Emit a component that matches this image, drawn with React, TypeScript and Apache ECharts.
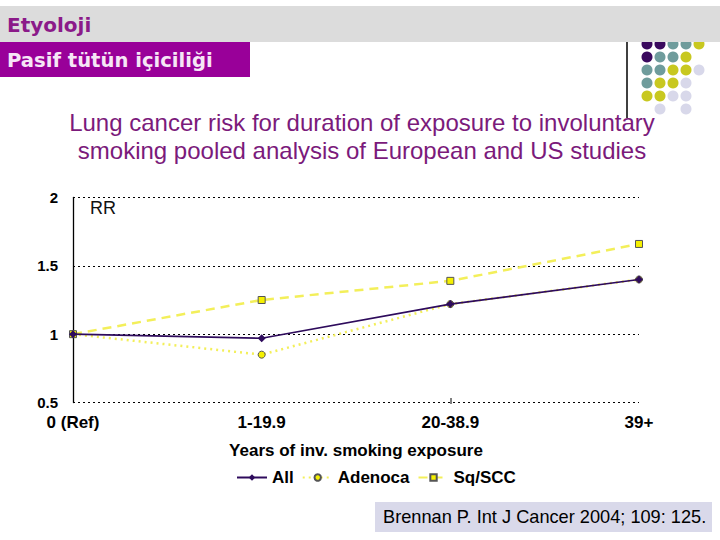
import React, { useEffect, useRef } from "react";
import * as echarts from "echarts";

const categories = ["0 (Ref)", "1-19.9", "20-38.9", "39+"];
const allValues = [1.0, 0.97, 1.22, 1.4];
const adenocaValues = [1.0, 0.85, 1.22, 1.4];
const sqSccValues = [1.0, 1.25, 1.39, 1.66];
const seriesNames = ["All", "Adenoca", "Sq/SCC"];

const titleLines = [
  "Lung cancer risk for duration of exposure to involuntary",
  "smoking pooled analysis of European and US studies",
];
const xAxisName = "Years of inv. smoking exposure";
const citation = "Brennan P. Int J Cancer 2004; 109: 125.";

// decorative dot matrix (row, col, color)
const DARK = "#3a0a5e";
const TEAL = "#6f9c9c";
const YEL = "#c8c820";
const LAV = "#d8d8ea";
const dotRows: (string | null)[][] = [
  [DARK, DARK, TEAL, TEAL, YEL],
  [DARK, TEAL, TEAL, YEL, null],
  [TEAL, TEAL, YEL, YEL, LAV],
  [TEAL, YEL, YEL, LAV, null],
  [YEL, YEL, LAV, LAV, null],
  [null, LAV, null, LAV, null],
];

const ARIAL = "Arial";
const HEAD = "DejaVu Sans";

export default function App() {
  const ref = useRef<HTMLDivElement>(null);
  useEffect(() => {
    if (!ref.current) return;
    const chart = echarts.init(ref.current, undefined, { renderer: "svg" });

    const dots: any[] = [];
    dotRows.forEach((row, r) => {
      row.forEach((c, k) => {
        if (!c) return;
        dots.push({
          type: "circle",
          z: 1,
          shape: { cx: 647 + k * 13, cy: 44 + r * 13, r: 5.5 },
          style: { fill: c },
        });
      });
    });

    chart.setOption({
      animation: false,
      backgroundColor: "#ffffff",
      grid: { left: 73, right: 81, top: 197.5, bottom: 137.5, containLabel: false },
      xAxis: {
        type: "category",
        data: categories,
        boundaryGap: false,
        axisLine: { show: false },
        axisTick: { show: false },
        axisLabel: {
          margin: 11,
          color: "#000",
          fontWeight: "bold",
          fontSize: 17,
          fontFamily: ARIAL,
        },
        name: xAxisName,
        nameLocation: "middle",
        nameGap: 39,
        nameTextStyle: { color: "#000", fontWeight: "bold", fontSize: 17, fontFamily: ARIAL },
      },
      yAxis: {
        type: "value",
        min: 0.5,
        max: 2,
        interval: 0.5,
        axisLine: { show: true, lineStyle: { color: "#000", width: 1.3 } },
        axisTick: { show: false },
        splitLine: { show: true, lineStyle: { color: "#000", type: [2, 3], width: 1 } },
        axisLabel: {
          margin: 15,
          color: "#000",
          fontWeight: "bold",
          fontSize: 15,
          fontFamily: ARIAL,
          formatter: (v: number) => String(v),
        },
      },
      legend: {
        top: 469,
        left: 236,
        padding: 0,
        itemWidth: 30,
        itemHeight: 8,
        itemGap: 8,
        data: seriesNames,
        textStyle: { color: "#000", fontWeight: "bold", fontSize: 17, fontFamily: ARIAL },
      },
      series: [
        {
          name: seriesNames[0],
          type: "line",
          data: allValues,
          symbol: "diamond",
          symbolSize: 8,
          lineStyle: { color: "#2e0b5c", width: 1.6 },
          itemStyle: { color: "#2e0b5c" },
          z: 5,
        },
        {
          name: seriesNames[1],
          type: "line",
          data: adenocaValues,
          symbol: "circle",
          symbolSize: 7,
          lineStyle: { color: "#f3ef5a", width: 2.5, type: [2, 4] },
          itemStyle: { color: "#f5f000", borderColor: "#555", borderWidth: 1 },
          z: 3,
        },
        {
          name: seriesNames[2],
          type: "line",
          data: sqSccValues,
          symbol: "rect",
          symbolSize: 7,
          lineStyle: { color: "#f3ef5a", width: 2.5, type: [9, 6] },
          itemStyle: { color: "#f5f000", borderColor: "#555", borderWidth: 1 },
          z: 4,
        },
      ],
      graphic: [
        ...dots,
        { type: "rect", z: 2, shape: { x: 0, y: 6, width: 720, height: 36 }, style: { fill: "#dcdcdc" } },
        {
          type: "text",
          z: 3,
          x: 7,
          y: 25,
          style: {
            text: "Etyoloji",
            fill: "#8b1a89",
            fontSize: 20,
            fontWeight: "bold",
            fontFamily: HEAD,
            verticalAlign: "middle",
          },
        },
        { type: "rect", z: 2, shape: { x: 0, y: 42, width: 250, height: 35 }, style: { fill: "#990099" } },
        {
          type: "text",
          z: 3,
          x: 7,
          y: 60,
          style: {
            text: "Pasif tütün içiciliği",
            fill: "#f6e6f6",
            fontSize: 19.6,
            fontWeight: "bold",
            fontFamily: HEAD,
            verticalAlign: "middle",
          },
        },
        { type: "line", z: 2, shape: { x1: 627, y1: 42, x2: 627, y2: 118 }, style: { stroke: "#000", lineWidth: 1.5 } },
        {
          type: "text",
          z: 3,
          x: 362,
          y: 122,
          style: {
            text: titleLines[0],
            fill: "#7b1a7b",
            fontSize: 24,
            fontFamily: ARIAL,
            align: "center",
            verticalAlign: "middle",
          },
        },
        {
          type: "text",
          z: 3,
          x: 362,
          y: 150,
          style: {
            text: titleLines[1],
            fill: "#7b1a7b",
            fontSize: 24,
            fontFamily: ARIAL,
            align: "center",
            verticalAlign: "middle",
          },
        },
        {
          type: "text",
          z: 3,
          x: 90,
          y: 208,
          style: { text: "RR", fill: "#111", fontSize: 18, fontFamily: ARIAL, verticalAlign: "middle" },
        },
        { type: "line", z: 2, shape: { x1: 451, y1: 398, x2: 451, y2: 404 }, style: { stroke: "#000", lineWidth: 1 } },
        { type: "rect", z: 2, shape: { x: 375, y: 502, width: 337, height: 30 }, style: { fill: "#d9d9ea" } },
        {
          type: "text",
          z: 3,
          x: 383,
          y: 517,
          style: { text: citation, fill: "#000", fontSize: 18.2, fontFamily: ARIAL, verticalAlign: "middle" },
        },
      ],
    });
    return () => chart.dispose();
  }, []);

  return <div ref={ref} style={{ width: 720, height: 540, position: "absolute", left: 0, top: 0 }} />;
}
